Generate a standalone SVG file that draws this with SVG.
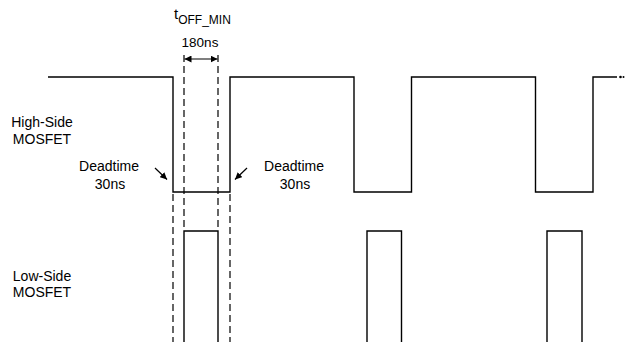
<svg xmlns="http://www.w3.org/2000/svg" width="626" height="342" viewBox="0 0 626 342">
<style>
.w{fill:none;stroke:#000;stroke-width:1.4}
.d{fill:none;stroke:#000;stroke-width:1.2;stroke-dasharray:7,4}
.a{fill:none;stroke:#000;stroke-width:1.2}
text{font-family:"Liberation Sans",Arial,sans-serif;font-size:14px;fill:#000;text-anchor:middle}
</style>
<defs>
<marker id="ah" viewBox="0 0 10 10" refX="10" refY="5" markerWidth="7" markerHeight="7" orient="auto-start-reverse" markerUnits="userSpaceOnUse">
<path d="M0,0 L10,5 L0,10 z" fill="#000"/>
</marker>
</defs>
<g id="labels">
<text x="42" y="127">High-Side</text>
<text x="42" y="144">MOSFET</text>
<text x="42" y="281">Low-Side</text>
<text x="42" y="297">MOSFET</text>
<text x="109" y="171">Deadtime</text>
<text x="110" y="189">30ns</text>
<text x="294" y="171">Deadtime</text>
<text x="295" y="189">30ns</text>
<text x="174" y="19" style="text-anchor:start;font-size:15px">t<tspan font-size="12" dy="5">OFF_MIN</tspan></text>
<text x="200" y="47" style="font-size:13.5px">180ns</text>
</g>
<g id="high-side">
<path class="w" d="M48,77 H173 V192 H230 V77 H354 V192 H411.5 V77 H535.5 V192 H593 V77 H617"/>
<circle cx="620.5" cy="77" r="1.3" fill="#000"/>
<circle cx="623.5" cy="77" r="1" fill="#000"/>
</g>
<g id="low-side">
<path class="w" d="M184,342 V231 H218 V342"/>
<path class="w" d="M367,342 V231 H401.5 V342"/>
<path class="w" d="M547,342 V231 H582 V342"/>
</g>
<g id="connectors">
<line class="d" x1="173" y1="194" x2="173" y2="342"/>
<line class="d" x1="230" y1="194" x2="230" y2="342"/>
<line class="d" x1="184" y1="55" x2="184" y2="231"/>
<line class="d" x1="218" y1="55" x2="218" y2="231"/>
<line class="a" x1="184.5" y1="59" x2="217.5" y2="59" marker-start="url(#ah)" marker-end="url(#ah)"/>
<line class="a" x1="155" y1="168" x2="167" y2="179.5" marker-end="url(#ah)"/>
<line class="a" x1="247" y1="168" x2="235" y2="179.5" marker-end="url(#ah)"/>
</g>
</svg>
